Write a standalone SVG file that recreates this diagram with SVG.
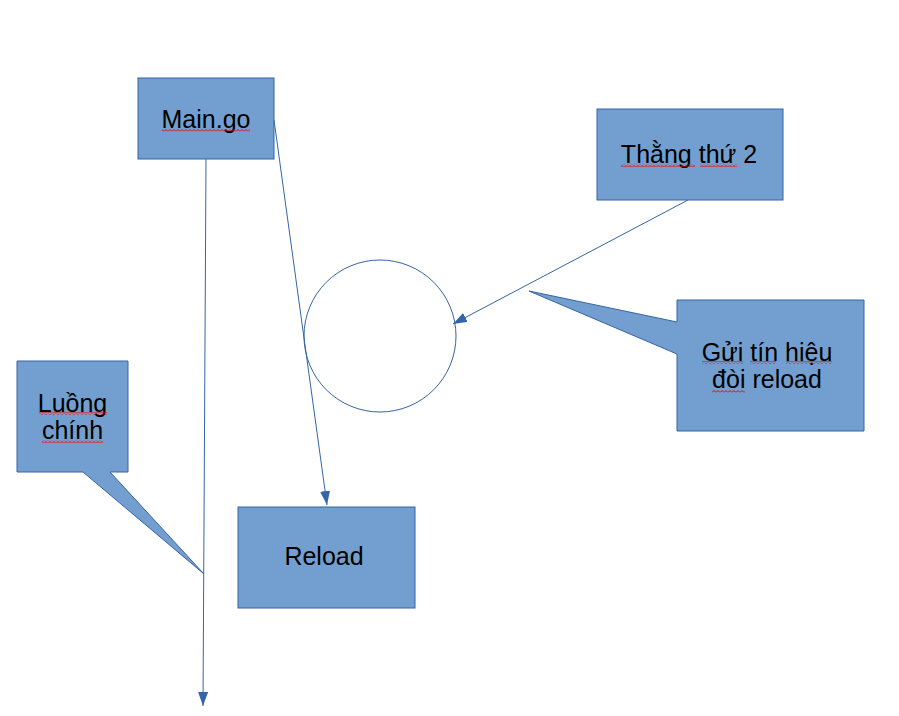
<svg xmlns="http://www.w3.org/2000/svg" width="899" height="716" viewBox="0 0 899 716">
<style>
.box{fill:#729fcf;stroke:#3465a4;stroke-width:1}
.lbl{font-family:"Liberation Sans",Arial,sans-serif;font-size:25px;fill:#000;text-anchor:middle}
.con{fill:none;stroke:#3465a4;stroke-width:1}
.sq{fill:url(#squig)}
</style>
<defs>
<marker id="arr" viewBox="0 0 14 10" refX="14" refY="5" markerWidth="14" markerHeight="10" markerUnits="userSpaceOnUse" orient="auto">
<path d="M0,0 L14,5 L0,10 Z" fill="#3465a4"/>
</marker>
<pattern id="squig" x="0" y="0" width="4" height="3" patternUnits="userSpaceOnUse">
<polyline points="0,2.5 2,0.5 4,2.5" fill="none" stroke="#e00" stroke-width="1"/>
</pattern>
</defs>
<rect width="899" height="716" fill="#fff"/>
<g id="connectors">
<line class="con" x1="206" y1="159" x2="203" y2="706" marker-end="url(#arr)"/>
<line class="con" x1="274" y1="120" x2="327" y2="505" marker-end="url(#arr)"/>
<line class="con" x1="688" y1="200" x2="453" y2="324" marker-end="url(#arr)"/>
</g>
<g id="circle">
<circle cx="380" cy="336" r="76" fill="none" stroke="#3465a4" stroke-width="1"/>
</g>
<g id="main-go">
<rect class="box" x="138" y="78" width="136" height="81"/>
<text class="lbl" x="206" y="128">Main.go</text>
<rect class="sq" x="162" y="129" width="88" height="3"/>
</g>
<g id="thang-thu-2">
<rect class="box" x="597" y="109" width="186" height="91"/>
<text class="lbl" x="689" y="163">Thằng thứ 2</text>
<rect class="sq" x="621" y="164" width="74" height="3"/>
<rect class="sq" x="700" y="164" width="37" height="3"/>
</g>
<g id="luong-chinh">
<path class="box" d="M17,361 H128 V472 H110 L204,574 L83,472 H17 Z"/>
<text class="lbl" x="72.5" y="412">Luồng</text>
<text class="lbl" x="72.5" y="439">chính</text>
<rect class="sq" x="39" y="412" width="68" height="3"/>
<rect class="sq" x="42" y="440" width="61" height="3"/>
</g>
<g id="gui-tin-hieu">
<path class="box" d="M677,300 H864 V431 H677 V354 L529,291 L677,322 Z"/>
<text class="lbl" x="767" y="361">Gửi tín hiệu</text>
<text class="lbl" x="767" y="388">đòi reload</text>
<rect class="sq" x="702" y="361" width="41" height="3"/>
<rect class="sq" x="750" y="361" width="26" height="3"/>
<rect class="sq" x="786" y="361" width="46" height="3"/>
<rect class="sq" x="712" y="390" width="33" height="3"/>
</g>
<g id="reload">
<rect class="box" x="238" y="507" width="177" height="101"/>
<text class="lbl" x="324" y="565">Reload</text>
</g>
</svg>
